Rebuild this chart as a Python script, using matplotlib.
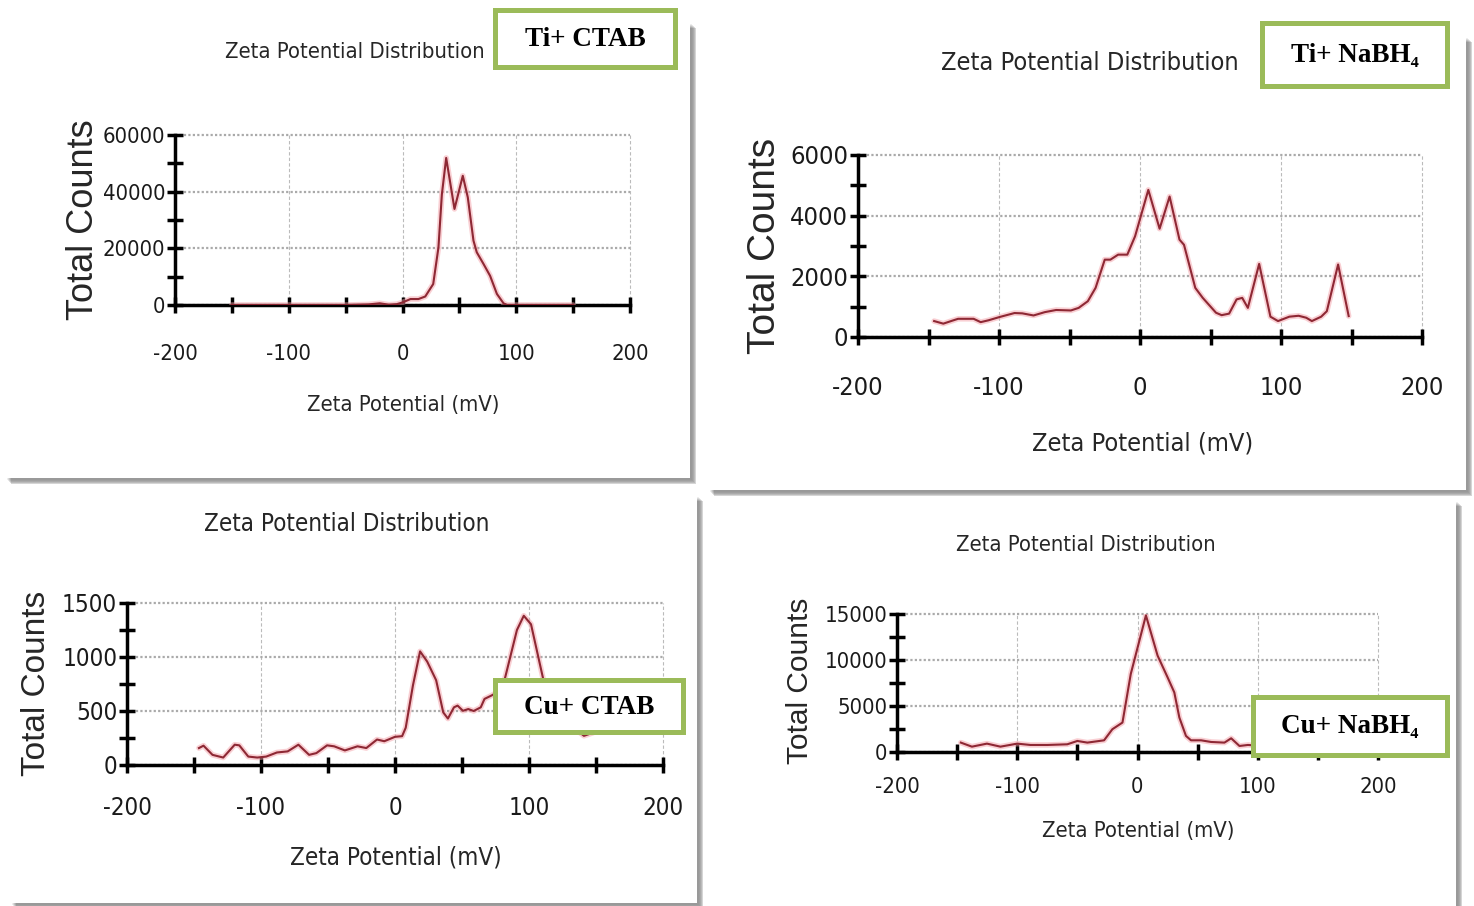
import matplotlib
matplotlib.use("Agg")
from matplotlib import pyplot as plt
from matplotlib import font_manager
from matplotlib.patches import Rectangle
from matplotlib.ticker import MultipleLocator

# ---- data ----
ti_ctab_mv = [-150, -100, -50, -30, -20, -12, -5, 0, 7, 14, 20, 27, 31.6, 34.6, 38.4, 45.7, 53, 57.4,
              62.4, 65.3, 71.2, 77, 83, 88.8, 92, 100, 150]
ti_ctab_counts = [0, 0, 0, 200, 600, 100, 300, 900, 2100, 2100, 3000, 7400, 20300, 39000, 51900, 33900,
                  45600, 38000, 22700, 18600, 14500, 10300, 3900, 600, 0, 0, 0]

ti_nabh4_mv = [-146, -139.5, -134, -129, -118, -113, -107.5, -99.5, -89, -83.5, -75.5, -67.5, -59.5, -49,
               -43.5, -37, -31.5, -25, -21, -15.5, -9, -3.5, 5.9, 13.9, 21, 28, 31.2, 39.2, 44.5, 53.9,
               57.9, 63.2, 68.5, 72.5, 76.5, 84.5, 92.5, 97.9, 105.9, 112.5, 117.9, 121.9, 128.5, 132.5,
               140.5, 148]
ti_nabh4_counts = [525, 440, 525, 600, 600, 490, 550, 660, 790, 780, 710, 820, 890, 875, 960, 1180, 1620,
                   2550, 2550, 2715, 2715, 3320, 4850, 3570, 4630, 3210, 3040, 1620, 1290, 800, 720, 770,
                   1240, 1290, 960, 2410, 670, 525, 670, 700, 635, 525, 670, 850, 2390, 690]

cu_ctab_mv = [-146.3, -142.9, -136.2, -128.2, -119.6, -116.2, -109.5, -102.8, -96.1, -88.1, -80.1, -72.1,
              -64.1, -58.7, -50.7, -45.4, -37.4, -28, -21.4, -13.4, -8, 0, 5.3, 8, 13.4, 18.7, 24, 30.7,
              36, 39.5, 44, 46.7, 50.7, 54.7, 58.7, 64, 66.8, 72.1, 80, 86, 91, 96.1, 101.5, 110.8, 116,
              125, 135, 141, 148]
cu_ctab_counts = [157, 179, 94, 69, 188, 182, 78, 69, 78, 116, 126, 188, 94, 110, 182, 173, 135, 173, 157,
                  236, 220, 261, 267, 345, 738, 1052, 958, 785, 487, 430, 534, 550, 502, 518, 500, 534,
                  612, 644, 700, 1000, 1250, 1382, 1303, 785, 550, 420, 330, 270, 300]

cu_nabh4_mv = [-146.9, -137.7, -125.2, -114, -100, -89, -75, -58.4, -50, -41.7, -27.8, -20.9, -12.5, -5.6,
               7, 16.7, 25, 30.6, 34.8, 40.3, 44.5, 52.9, 61.2, 72.3, 77.9, 84.8, 91.8, 100, 110, 120, 130,
               140, 150]
cu_nabh4_counts = [1020, 580, 910, 580, 910, 764, 764, 837, 1200, 1020, 1270, 2475, 3200, 8480, 14850,
                   10480, 8120, 6480, 3750, 1750, 1270, 1270, 1090, 1020, 1490, 655, 764, 700, 750, 650,
                   700, 600, 650]

W, H = 1474, 906
plt.rcParams["axes.unicode_minus"] = False

# condensed sans if there is one, otherwise Liberation Sans a bit smaller
fonts = font_manager.fontManager.ttflist
if any(f.name == "DejaVu Sans" and f.stretch == "condensed" for f in fonts):
    narrow = dict(family=["DejaVu Sans"], stretch="condensed")
    scale = 0.79
else:
    narrow = dict(family=["Liberation Sans", "DejaVu Sans"])
    scale = 0.72
serif = ["Liberation Serif", "DejaVu Serif"]

fig = plt.figure(figsize=(W / 100, H / 100), dpi=100)
fig.patch.set_facecolor("white")

bg = fig.add_axes([0, 0, 1, 1], zorder=0)
bg.set_xlim(0, W)
bg.set_ylim(H, 0)
bg.axis("off")

fg = fig.add_axes([0, 0, 1, 1], zorder=5)
fg.set_xlim(0, W)
fg.set_ylim(H, 0)
fg.axis("off")
fg.patch.set_alpha(0)


def card(x0, y0, x1, y1):
    for k, a in enumerate([0.10, 0.14, 0.18, 0.22, 0.26]):
        bg.add_patch(Rectangle((x0 + 2 + k, y0 + 2 + k), x1 - x0, y1 - y0, color="#606060", alpha=a, lw=0))
    bg.add_patch(Rectangle((x0, y0), x1 - x0, y1 - y0, color="white", lw=0))


def panel(px, py, x, y, ymax, ystep, fs, xpad, lw_axis=2.5):
    # px = (left, right) pixel of -200..200, py = (zero, top) pixel
    ax = fig.add_axes([px[0] / W, 1 - py[0] / H, (px[1] - px[0]) / W, (py[0] - py[1]) / H], zorder=1)
    ax.patch.set_alpha(0)
    ax.plot(x, y, color="#f4a0a8", lw=4, alpha=0.5, solid_capstyle="round", zorder=3)
    ax.plot(x, y, color="#8e2834", lw=1.5, zorder=4)
    ax.set_xlim(-200, 200)
    ax.set_ylim(0, ymax)
    ax.xaxis.set_major_locator(MultipleLocator(100))
    ax.xaxis.set_minor_locator(MultipleLocator(50))
    ax.yaxis.set_major_locator(MultipleLocator(ystep))
    ax.yaxis.set_minor_locator(MultipleLocator(ystep / 2))
    for s in ["top", "right"]:
        ax.spines[s].set_visible(False)
    for s in ["left", "bottom"]:
        ax.spines[s].set_linewidth(lw_axis)
        ax.spines[s].set_zorder(2)
    ax.tick_params(which="both", direction="inout", length=12, width=lw_axis, colors="black")
    ax.tick_params(axis="x", pad=xpad)
    ax.tick_params(axis="y", pad=1)
    ax.grid(axis="y", color="#aaaaaa", linestyle=(0, (1, 1)), lw=1.6)
    ax.grid(axis="x", color="#bbbbbb", linestyle=(0, (3, 2)), lw=0.8)
    for lab in ax.get_xticklabels() + ax.get_yticklabels():
        lab.set_fontfamily(narrow["family"])
        if "stretch" in narrow:
            lab.set_fontstretch(narrow["stretch"])
        lab.set_fontsize(fs * scale)
        lab.set_color("#1a1a1a")
    for gl in ax.get_xgridlines() + ax.get_ygridlines():
        gl.set_clip_on(False)
    return ax


def labels(title_xy, xlab_xy, ylab_xy, fs, yfs):
    fg.text(*title_xy, "Zeta Potential Distribution", fontsize=fs * scale, color="#262626",
            ha="center", va="center", **narrow)
    fg.text(*xlab_xy, "Zeta Potential (mV)", fontsize=fs * scale, color="#262626",
            ha="center", va="center", **narrow)
    fg.text(*ylab_xy, "Total Counts", fontsize=yfs, family=["Liberation Sans", "DejaVu Sans"],
            color="#262626", ha="center", va="center", rotation=90)


def tag(x0, y0, x1, y1, text):
    fg.add_patch(Rectangle((x0, y0), x1 - x0, y1 - y0, facecolor="white", edgecolor="#9bbb59", lw=3.6))
    fg.text((x0 + x1) / 2, (y0 + y1) / 2 + 1, text, fontsize=19.5, fontweight="bold", family=serif,
            ha="center", va="center", color="black")


card(5, 22, 690, 478)
card(708, 36, 1466, 490)
card(10, 495, 697, 903)
card(708, 500, 1456, 906)

panel((175, 630), (305, 135), ti_ctab_mv, ti_ctab_counts, 60000, 20000, 20, 22)
labels((355, 52), (403, 405), (84, 220), 20, 26)
tag(495, 10, 675, 67, "Ti+ CTAB")

panel((858, 1422), (337, 155), ti_nabh4_mv, ti_nabh4_counts, 6000, 2000, 23, 22)
labels((1090, 63), (1143, 444), (765, 246), 23, 28)
tag(1262, 23, 1447, 86, "Ti+ NaBH₄")

panel((127, 663), (765, 603), cu_ctab_mv, cu_ctab_counts, 1500, 500, 22, 16)
labels((347, 524), (396, 857), (37, 683), 22, 24)
tag(495, 680, 683, 732, "Cu+ CTAB")

panel((897, 1378), (752, 614), cu_nabh4_mv, cu_nabh4_counts, 15000, 5000, 20, 12)
labels((1086, 545), (1138, 831), (800, 681), 20, 21.5)
tag(1253, 697, 1447, 755, "Cu+ NaBH₄")

plt.savefig("out.png", dpi=100, facecolor=fig.get_facecolor())
